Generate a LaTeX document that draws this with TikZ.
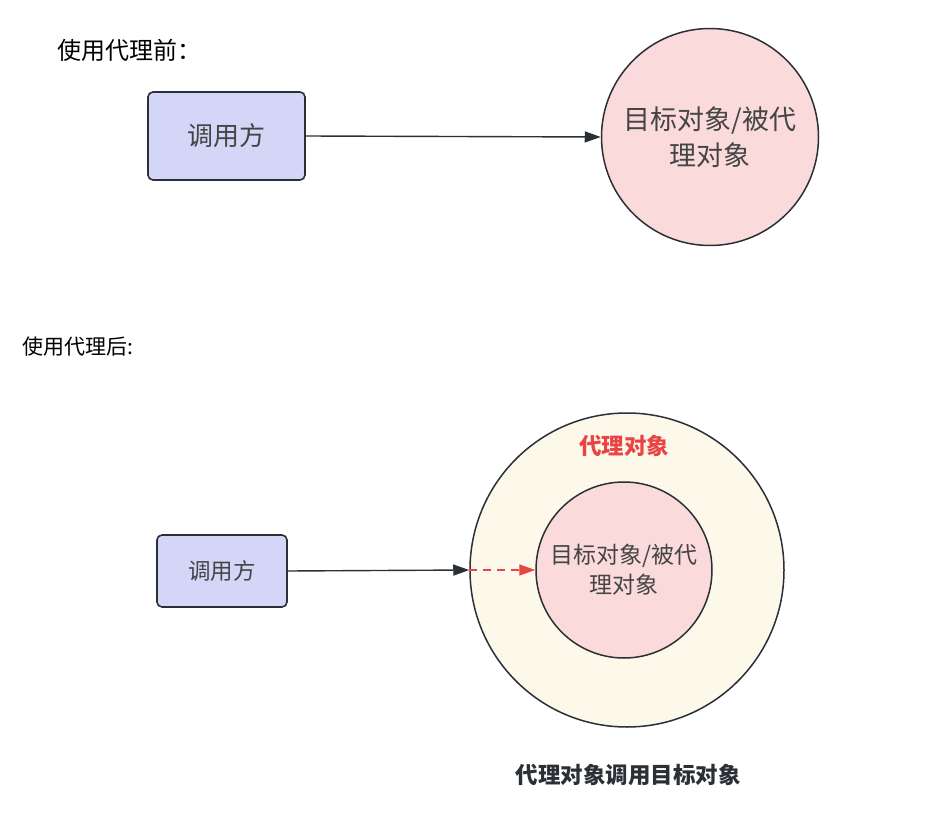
\documentclass[tikz,border=0pt]{standalone}
\usepackage{fontspec}
\setmainfont{Noto Sans CJK SC}
\newfontfamily\cjk{Noto Sans CJK SC}
\usetikzlibrary{arrows.meta}
\definecolor{boxfill}{HTML}{D4D6F8}
\definecolor{pinkfill}{HTML}{FADADA}
\definecolor{creamfill}{HTML}{FCF8EA}
\definecolor{edge}{HTML}{2B2F36}
\definecolor{txt}{HTML}{444444}
\definecolor{redc}{HTML}{E84545}
\begin{document}
\begin{tikzpicture}[x=1pt,y=-1pt,
  callbox/.style={draw=edge,line width=1.6pt,fill=boxfill,rounded corners=5pt,inner sep=0pt,text=txt},
  circ/.style={draw=edge,line width=1.5pt,circle,inner sep=0pt,text=txt,align=center},
  conn/.style={draw=edge,line width=1.4pt,-{Triangle[length=16pt,width=11pt]}},
  redconn/.style={draw=redc,line width=1.4pt,dashed,dash pattern=on 8pt off 6pt,-{Triangle[length=16pt,width=11pt]}},
  lbl/.style={inner sep=0pt,anchor=west}]
\useasboundingbox (0,0) rectangle (938,824);
% before
\node[lbl,font=\fontsize{24}{28}\selectfont] (t1) at (57,50) {使用代理前：};
\node[callbox,minimum width=157pt,minimum height=88pt,font=\fontsize{26}{30}\selectfont] (b1) at (226.5,136) {调用方};
\node[circ,fill=pinkfill,minimum size=217pt,font=\fontsize{27}{36}\selectfont] (c1) at (710,137) {目标对象/被代\\理对象};
\draw[conn] (b1.east) -- (c1.west);
% after
\node[lbl,font=\fontsize{21}{24}\selectfont] (t2) at (22,347) {使用代理后:};
\node[circ,fill=creamfill,minimum size=314pt] (c2) at (627,570) {};
\node[circ,fill=pinkfill,minimum size=176pt,font=\fontsize{23}{30}\selectfont] (c3) at (624,570) {目标对象/被代\\理对象};
\node[inner sep=0pt,text=redc,font=\bfseries\fontsize{22.5}{26}\selectfont] (p) at (624,446) {代理对象};
\node[callbox,minimum width=130pt,minimum height=72pt,font=\fontsize{22.5}{26}\selectfont] (b2) at (222,571) {调用方};
\draw[conn] (b2.east) -- (c2.west);
\draw[redconn] (c2.west) -- (c3.west);
\node[inner sep=0pt,text=edge,font=\bfseries\fontsize{22.5}{26}\selectfont] (cap) at (628,775) {代理对象调用目标对象};
\end{tikzpicture}
\end{document}
